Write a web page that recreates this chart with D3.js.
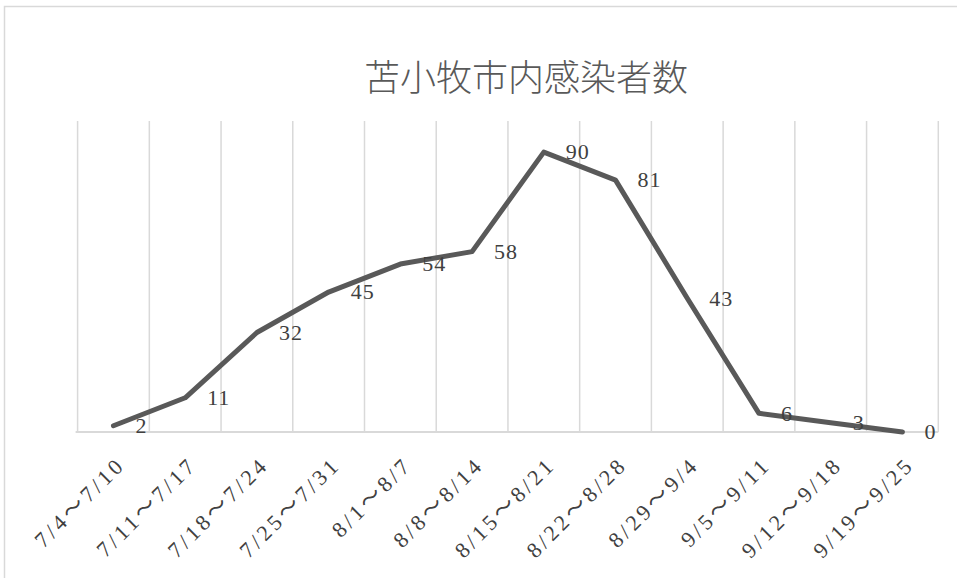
<!DOCTYPE html>
<html lang="ja">
<head>
    <meta charset="UTF-8">
    <title>苫小牧市内感染者数</title>
    <script src="https://cdnjs.cloudflare.com/ajax/libs/d3/7.8.5/d3.min.js"></script>
    <style>
        body, html {
            margin: 0;
            padding: 0;
            width: 100%;
            height: 100%;
            overflow: hidden;
            background: #fff;
        }
        .lbl {
            font-family: "Liberation Serif", "Noto Sans CJK JP", serif;
            fill: #404040;
        }
    </style>
</head>
<body>
    <div id="chart"></div>

    <script>
        const title = "苫小牧市内感染者数";
        const weeks = ["7/4～7/10", "7/11～7/17", "7/18～7/24", "7/25～7/31", "8/1～8/7", "8/8～8/14",
                       "8/15～8/21", "8/22～8/28", "8/29～9/4", "9/5～9/11", "9/12～9/18", "9/19～9/25"];
        const cases = [2, 11, 32, 45, 54, 58, 90, 81, 43, 6, 3, 0];

        const width = 957, height = 578;
        const plotLeft = 77.6, plotRight = 938.3, plotTop = 121, plotBottom = 432;

        const svg = d3.select("#chart").append("svg")
            .attr("width", width)
            .attr("height", height);

        // chart area border
        svg.append("rect")
            .attr("x", 4.5).attr("y", 6.5)
            .attr("width", 1000).attr("height", 1000)
            .attr("fill", "none")
            .attr("stroke", "#d9d9d9")
            .attr("stroke-width", 1.5);

        svg.append("text")
            .attr("x", 526)
            .attr("y", 91)
            .attr("text-anchor", "middle")
            .style("font-family", "'Noto Sans CJK JP', sans-serif")
            .style("font-weight", 300)
            .style("font-size", "36px")
            .style("fill", "#595959")
            .text(title);

        const x = d3.scaleBand()
            .domain(weeks)
            .range([plotLeft, plotRight]);

        const y = d3.scaleLinear()
            .domain([0, 100])
            .range([plotBottom, plotTop]);

        // vertical gridlines at band edges
        const edges = weeks.map(d => x(d)).concat([plotRight]);
        svg.append("g")
            .selectAll("line")
            .data(edges)
            .join("line")
            .attr("x1", d => d).attr("x2", d => d)
            .attr("y1", plotTop).attr("y2", plotBottom)
            .attr("stroke", "#d9d9d9")
            .attr("stroke-width", 1.5);

        svg.append("line")
            .attr("x1", plotLeft - 2).attr("x2", plotRight)
            .attr("y1", plotBottom).attr("y2", plotBottom)
            .attr("stroke", "#d9d9d9")
            .attr("stroke-width", 2);

        const cx = d => x(d) + x.bandwidth() / 2;

        const line = d3.line()
            .x((d, i) => cx(weeks[i]))
            .y(d => y(d));

        svg.append("path")
            .datum(cases)
            .attr("d", line)
            .attr("fill", "none")
            .attr("stroke", "#595959")
            .attr("stroke-width", 5)
            .attr("stroke-linejoin", "round")
            .attr("stroke-linecap", "round");

        // data labels to the right of each point
        svg.append("g")
            .selectAll("text")
            .data(cases)
            .join("text")
            .attr("class", "lbl")
            .attr("x", (d, i) => cx(weeks[i]) + 22)
            .attr("y", d => y(d))
            .attr("dy", "0.33em")
            .style("font-size", "22px")
            .style("letter-spacing", "1px")
            .text(d => d);

        // rotated category labels
        svg.append("g")
            .selectAll("text")
            .data(weeks)
            .join("text")
            .attr("class", "lbl")
            .attr("text-anchor", "end")
            .attr("transform", d => `translate(${cx(d) + 13},${plotBottom + 34}) rotate(-45)`)
            .style("font-size", "22px")
            .style("letter-spacing", "3.5px")
            .text(d => d);
    </script>
</body>
</html>
